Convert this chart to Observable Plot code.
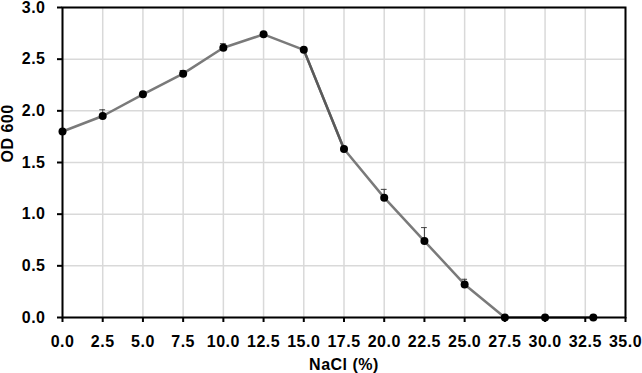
<!DOCTYPE html>
<html><head><meta charset="utf-8">
<script src="https://cdn.jsdelivr.net/npm/d3@7"></script>
<script src="https://cdn.jsdelivr.net/npm/@observablehq/plot@0.6"></script>
<style>body{margin:0;background:#fff} svg text{letter-spacing:0.5px}</style>
</head><body><div id="chart"></div>
<script>
const nacl = [0, 2.5, 5, 7.5, 10, 12.5, 15, 17.5, 20, 22.5, 25, 27.5, 30, 33];
const od600 = [1.80, 1.95, 2.16, 2.36, 2.61, 2.74, 2.59, 1.63, 1.16, 0.74, 0.32, 0, 0, 0];
const odError = [0.01, 0.06, 0.01, 0.03, 0.04, 0.01, 0.01, 0.01, 0.08, 0.13, 0.05, 0, 0, 0];
const xTicks = [0, 2.5, 5, 7.5, 10, 12.5, 15, 17.5, 20, 22.5, 25, 27.5, 30, 32.5, 35];
const yTicks = [0, 0.5, 1.0, 1.5, 2.0, 2.5, 3.0];
const xLabel = "NaCl (%)";
const yLabel = "OD 600";

const data = nacl.map((x, i) => ({x, y: od600[i], e: odError[i]}));
const errs = data.filter(d => d.e > 0.02);

const font = "'Liberation Sans', Arial, sans-serif";
const fmt = d3.format(".1f");
const chart = Plot.plot({
  width: 642, height: 373,
  marginLeft: 62, marginRight: 17, marginTop: 7, marginBottom: 56,
  style: {fontFamily: font, fontSize: "16px", fontWeight: "bold", color: "#000", background: "#fff"},
  x: {domain: [0, 35]},
  y: {domain: [0, 3]},
  marks: [
    Plot.gridX(xTicks, {stroke: "#d9d9d9", strokeOpacity: 1, strokeWidth: 1.5}),
    Plot.gridY(yTicks, {stroke: "#d9d9d9", strokeOpacity: 1, strokeWidth: 1.5}),
    Plot.ruleX(errs, {x: "x", y1: "y", y2: d => d.y + d.e, stroke: "#404040", strokeWidth: 1}),
    Plot.ruleY(errs, {y: d => d.y + d.e, x1: d => d.x - 0.18, x2: d => d.x + 0.18, stroke: "#404040", strokeWidth: 1}),
    Plot.line(data, {x: "x", y: "y", stroke: "#7a7a7a", strokeWidth: 2.5}),
    Plot.line(data.slice(6, 8), {x: "x", y: "y", stroke: "#5a5a5a", strokeWidth: 2.5}),
    Plot.dot(data, {x: "x", y: "y", r: 4, fill: "#000", stroke: "none"}),
    Plot.frame({stroke: "#000", strokeWidth: 2}),
    Plot.axisX({ticks: xTicks, tickFormat: fmt, tickSize: 5, tickPadding: 13, strokeWidth: 2, fontSize: 16, fontWeight: "bold", label: null}),
    Plot.axisY({ticks: yTicks, tickFormat: fmt, tickSize: 5, tickPadding: 12, strokeWidth: 2, fontSize: 16, fontWeight: "bold", label: null}),
    Plot.text([xLabel], {frameAnchor: "bottom", dy: 52, text: d => d, fontSize: 16, fontWeight: "bold", fill: "#000"}),
    Plot.text([yLabel], {frameAnchor: "left", dx: -55, rotate: -90, text: d => d, fontSize: 16, fontWeight: "bold", fill: "#000"})
  ]
});
document.getElementById("chart").appendChild(chart);
</script></body></html>
